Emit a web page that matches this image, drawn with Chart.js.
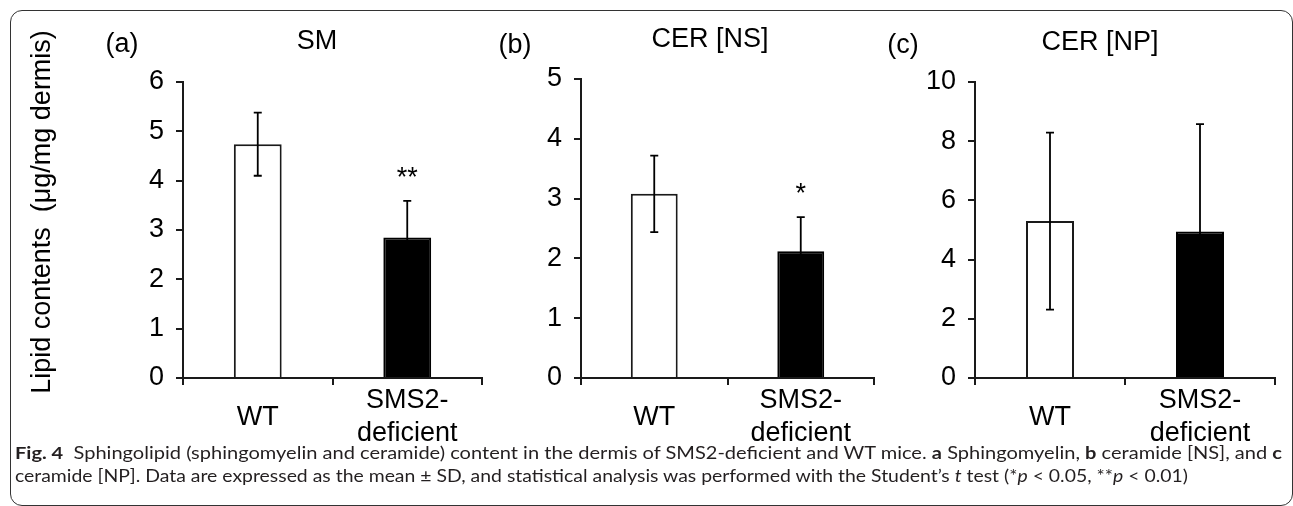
<!DOCTYPE html>
<html lang="en">
<head>
<meta charset="UTF-8">
<title>Fig. 4</title>
<script src="https://cdn.jsdelivr.net/npm/chart.js@4.4.0/dist/chart.umd.min.js"></script>
<style>
    body { margin: 0; background: #fff; }
    #page { position: relative; width: 1293px; height: 506px; overflow: hidden; background: #fff; }
    #cadre { position: absolute; left: 10px; top: 10px; width: 1283px; height: 496px; border: 1px solid #333;
             border-radius: 12px; box-sizing: border-box; }
    #page canvas { position: absolute; left: 0; top: 0; }
    .legende { position: absolute; left: 15px; font-family: Lato, "Open Sans", sans-serif; font-size: 17px;
               line-height: 22px; white-space: nowrap; transform-origin: 0 0; color: #231f20; }
</style>
</head>
<body>
<div id="page">
    <div id="cadre"></div>
    <canvas id="panneauA" width="1293" height="506"></canvas>
    <canvas id="panneauB" width="1293" height="506"></canvas>
    <canvas id="panneauC" width="1293" height="506"></canvas>
    <div class="legende" id="ligne1"><b>Fig. 4</b>&nbsp; Sphingolipid (sphingomyelin and ceramide) content in the dermis of SMS2-deficient and WT mice. <b>a</b> Sphingomyelin, <b>b</b> ceramide [NS], and <b>c</b></div>
    <div class="legende" id="ligne2">ceramide [NP]. Data are expressed as the mean ± SD, and statistical analysis was performed with the Student’s <i>t</i> test (*<i>p</i> &lt; 0.05, **<i>p</i> &lt; 0.01)</div>
</div>

<script>
    // donnees
    const categories = ['WT', ['SMS2-', 'deficient']];

    const smMoyenne = [4.74, 2.85];
    const smEcart = [0.64, 0.74];
    const smEtoiles = ['', '**'];

    const nsMoyenne = [3.08, 2.12];
    const nsEcart = [0.64, 0.57];
    const nsEtoiles = ['', '*'];

    const npMoyenne = [5.30, 4.95];
    const npEcart = [2.99, 3.63];
    const npEtoiles = ['', ''];

    const maxAxes = [6, 5, 10];
    const pasAxes = [1, 1, 2];

    const POLICE = '"Liberation Sans", Arial, sans-serif';
    const TAILLE = 27;
    const NOIR = '#000';
    const TRAIT = '#1a1a1a';
    const LARGEUR_Y = 60;
    const HAUTEUR_X = 80;
    const BAS = 378;

    // barres d'erreur + etoiles de significativite
    let pluginErreurs = (moyennes, ecarts, etoiles) => ({
        id: 'barresErreur',
        afterDatasetsDraw(chart) {
            const ctx = chart.ctx;
            const y = chart.scales.y;
            ctx.save();
            ctx.strokeStyle = NOIR;
            ctx.lineWidth = 1.8;
            chart.getDatasetMeta(0).data.forEach((barre, i) => {
                const haut = y.getPixelForValue(moyennes[i] + ecarts[i]);
                const bas = y.getPixelForValue(moyennes[i] - ecarts[i]);
                ctx.beginPath();
                ctx.moveTo(barre.x, haut);
                ctx.lineTo(barre.x, bas);
                ctx.moveTo(barre.x - 4, haut);
                ctx.lineTo(barre.x + 4, haut);
                ctx.moveTo(barre.x - 4, bas);
                ctx.lineTo(barre.x + 4, bas);
                ctx.stroke();
                if (etoiles[i]) {
                    ctx.fillStyle = NOIR;
                    ctx.font = TAILLE + 'px ' + POLICE;
                    ctx.textAlign = 'center';
                    ctx.textBaseline = 'alphabetic';
                    ctx.fillText(etoiles[i], barre.x, haut - 15);
                }
            });
            ctx.restore();
        }
    });

    // titres, lettre du panneau, titre de l'axe y
    let pluginTextes = (textes) => ({
        id: 'textes',
        afterDraw(chart) {
            const ctx = chart.ctx;
            ctx.save();
            ctx.fillStyle = NOIR;
            ctx.font = TAILLE + 'px ' + POLICE;
            ctx.textAlign = 'center';
            ctx.textBaseline = 'alphabetic';
            textes.forEach(t => {
                ctx.save();
                ctx.translate(t.x, t.y);
                if (t.vertical) ctx.rotate(-Math.PI / 2);
                ctx.fillText(t.texte, 0, 0);
                ctx.restore();
            });
            ctx.restore();
        }
    });

    function creerPanneau(id, moyennes, ecarts, etoiles, indice, zone, textes) {
        const content = document.querySelector('#' + id).getContext('2d');
        return new Chart(content, {
            type: 'bar',
            data: {
                labels: categories,
                datasets: [{
                    data: moyennes,
                    backgroundColor: ['#ffffff', '#000000'],
                    borderColor: [TRAIT, '#000000'],
                    borderWidth: 2,
                    barPercentage: 0.32,
                    categoryPercentage: 1
                }]
            },
            options: {
                responsive: false,
                animation: false,
                events: [],
                layout: {
                    padding: {
                        left: zone.gauche - LARGEUR_Y,
                        right: 1293 - zone.droite,
                        top: zone.haut,
                        bottom: 506 - BAS - HAUTEUR_X
                    }
                },
                plugins: { legend: { display: false }, tooltip: { enabled: false } },
                scales: {
                    x: {
                        afterFit: s => { s.height = HAUTEUR_X; },
                        border: { display: true, color: TRAIT, width: 2 },
                        grid: { display: true, drawOnChartArea: false, drawTicks: true, tickLength: 7,
                                color: TRAIT, lineWidth: 2, offset: true },
                        ticks: { color: NOIR, font: { family: POLICE, size: TAILLE }, padding: 16,
                                 crossAlign: 'center', maxRotation: 0 }
                    },
                    y: {
                        min: 0,
                        max: maxAxes[indice],
                        afterFit: s => { s.width = LARGEUR_Y; },
                        border: { display: true, color: TRAIT, width: 2 },
                        grid: { display: true, drawOnChartArea: false, drawTicks: true, tickLength: 7,
                                color: TRAIT, lineWidth: 2 },
                        ticks: { stepSize: pasAxes[indice], color: NOIR, font: { family: POLICE, size: TAILLE },
                                 padding: 12 }
                    }
                }
            },
            plugins: [pluginErreurs(moyennes, ecarts, etoiles), pluginTextes(textes)]
        });
    }

    creerPanneau('panneauA', smMoyenne, smEcart, smEtoiles, 0, { gauche: 183, droite: 482, haut: 82 }, [
        { texte: 'SM', x: 317, y: 49 },
        { texte: '(a)', x: 122, y: 52 },
        { texte: 'Lipid contents  (μg/mg dermis)', x: 50, y: 212, vertical: true }
    ]);
    creerPanneau('panneauB', nsMoyenne, nsEcart, nsEtoiles, 1, { gauche: 581, droite: 874, haut: 79 }, [
        { texte: 'CER [NS]', x: 710, y: 47 },
        { texte: '(b)', x: 515, y: 53 }
    ]);
    creerPanneau('panneauC', npMoyenne, npEcart, npEtoiles, 2, { gauche: 975, droite: 1275, haut: 82 }, [
        { texte: 'CER [NP]', x: 1100, y: 50 },
        { texte: '(c)', x: 903, y: 53 }
    ]);

    // ajuste la legende a la largeur de l'original
    let ajusteLigne = (id, largeur, haut) => {
        const el = document.getElementById(id);
        el.style.top = haut + 'px';
        const w = el.getBoundingClientRect().width;
        el.style.transform = 'scaleX(' + (largeur / w) + ')';
    };
    ajusteLigne('ligne1', 1267, 442);
    ajusteLigne('ligne2', 1173, 465);
</script>
</body>
</html>
